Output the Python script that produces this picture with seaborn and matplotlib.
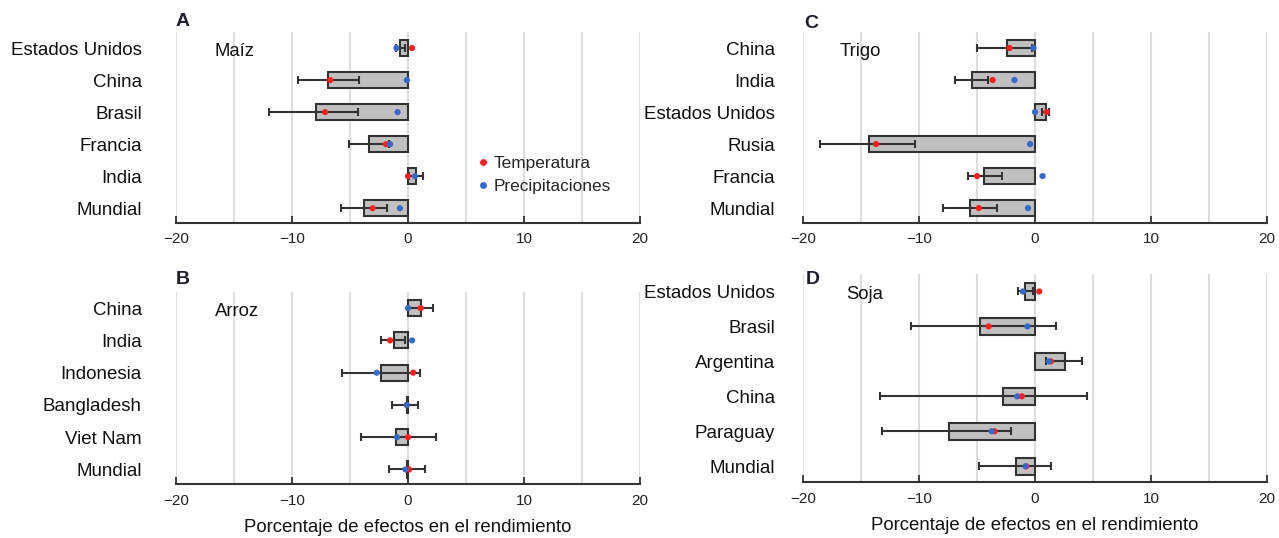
import numpy as np
import pandas as pd
import matplotlib
matplotlib.use("Agg")
import matplotlib.pyplot as plt
import seaborn as sns

sns.set_theme(style="white")
plt.rcParams['font.family'] = ['Liberation Sans', 'DejaVu Sans']

# ---------------- data ----------------
maiz_countries = ["Estados Unidos", "China", "Brasil", "Francia", "India", "Mundial"]
maiz_bar = [-0.7, -6.9, -7.95, -3.35, 0.7, -3.8]
maiz_err_lo = [-1.0, -9.45, -11.95, -5.1, 0.05, -5.8]
maiz_err_hi = [-0.25, -4.2, -4.3, -1.6, 1.32, -1.85]
maiz_temp = [0.35, -6.7, -7.15, -1.9, 0.0, -3.05]
maiz_prec = [-1.0, -0.1, -0.9, -1.55, 0.6, -0.7]

arroz_countries = ["China", "India", "Indonesia", "Bangladesh", "Viet Nam", "Mundial"]
arroz_bar = [1.1, -1.25, -2.35, -0.12, -1.0, -0.05]
arroz_err_lo = [0.02, -2.3, -5.65, -1.38, -4.05, -1.64]
arroz_err_hi = [2.18, -0.23, 1.0, 0.89, 2.4, 1.47]
arroz_temp = [1.1, -1.55, 0.45, -0.1, 0.0, 0.1]
arroz_prec = [0.0, 0.35, -2.7, -0.1, -0.95, -0.22]

trigo_countries = ["China", "India", "Estados Unidos", "Rusia", "Francia", "Mundial"]
trigo_bar = [-2.4, -5.4, 0.97, -14.3, -4.37, -5.58]
trigo_err_lo = [-5.0, -6.88, 0.6, -18.5, -5.8, -7.94]
trigo_err_hi = [-0.22, -4.05, 1.23, -10.36, -2.84, -3.24]
trigo_temp = [-2.2, -3.65, 1.0, -13.7, -5.0, -4.85]
trigo_prec = [-0.13, -1.77, 0.0, -0.42, 0.65, -0.6]

soja_countries = ["Estados Unidos", "Brasil", "Argentina", "China", "Paraguay", "Mundial"]
soja_bar = [-0.85, -4.74, 2.58, -2.72, -7.42, -1.66]
soja_err_lo = [-1.5, -10.66, 0.93, -13.34, -13.19, -4.86]
soja_err_hi = [-0.13, 1.77, 4.02, 4.45, -2.03, 1.34]
soja_temp = [0.36, -4.0, 1.37, -1.14, -3.48, -0.76]
soja_prec = [-1.05, -0.65, 1.19, -1.54, -3.74, -0.82]

crops = ["Maíz", "Arroz", "Trigo", "Soja"]
letters = ["A", "B", "C", "D"]
xticks = [-20, -10, 0, 10, 20]
xlabel = "Porcentaje de efectos en el rendimiento"
legend_labels = ["Temperatura", "Precipitaciones"]

# ---------------- style ----------------
BAR_FILL = "#c0c0c0"
DARK = "#333333"
GRID = "#dedede"
RED = "#ff1f1f"
BLUE = "#3569c9"

W, H = 1279, 538
fig = plt.figure(figsize=(W / 100, H / 100), dpi=100)

def rect(left, top, right, bottom):
    return [left / W, 1 - bottom / H, (right - left) / W, (bottom - top) / H]

panels = [
    dict(rect=rect(176, 32, 640, 222.7), countries=maiz_countries, bar=maiz_bar,
         lo=maiz_err_lo, hi=maiz_err_hi, temp=maiz_temp, prec=maiz_prec,
         pad=24.5, letter_xy=(176, 22), label=False, legend=True),
    dict(rect=rect(176, 292, 640, 484), countries=arroz_countries, bar=arroz_bar,
         lo=arroz_err_lo, hi=arroz_err_hi, temp=arroz_temp, prec=arroz_prec,
         pad=24.5, letter_xy=(176, 279), label=True, legend=False),
    dict(rect=rect(803, 32, 1267, 222.5), countries=trigo_countries, bar=trigo_bar,
         lo=trigo_err_lo, hi=trigo_err_hi, temp=trigo_temp, prec=trigo_prec,
         pad=20, letter_xy=(804, 23), label=False, legend=False),
    dict(rect=rect(803, 274, 1267, 482), countries=soja_countries, bar=soja_bar,
         lo=soja_err_lo, hi=soja_err_hi, temp=soja_temp, prec=soja_prec,
         pad=20, letter_xy=(806, 279), label=True, legend=False),
]
crop_pos = [(0.084, 0.90), (0.084, 0.90), (0.078, 0.90), (0.093, 0.90)]

for i, p in enumerate(panels):
    ax = fig.add_axes(p["rect"])
    n = len(p["countries"])
    pos = np.arange(n)
    df = pd.DataFrame({"pais": p["countries"], "valor": p["bar"]})
    sns.barplot(data=df, x="valor", y="pais", ax=ax, color=BAR_FILL,
                edgecolor=DARK, linewidth=1.5, width=0.5, errorbar=None,
                saturation=1, zorder=2)
    lo = np.array(p["lo"]); hi = np.array(p["hi"])
    ax.errorbar((lo + hi) / 2, pos, xerr=(hi - lo) / 2, fmt="none",
                ecolor=DARK, elinewidth=1.5, capsize=3, capthick=1.5, zorder=3)
    dots = pd.DataFrame({
        "x": list(p["temp"]) + list(p["prec"]),
        "y": list(pos) + list(pos),
        "serie": [legend_labels[0]] * n + [legend_labels[1]] * n,
    })
    sns.scatterplot(data=dots, x="x", y="y", hue="serie",
                    palette={legend_labels[0]: RED, legend_labels[1]: BLUE},
                    s=20, linewidth=0, ax=ax, zorder=4, legend=p["legend"])

    ax.set_xlim(-20, 20)
    ax.set_ylim(n - 0.55, -0.5)
    ax.set_yticks(pos)
    ax.set_yticklabels(p["countries"])
    ax.set_xticks(xticks)
    ax.set_xticklabels([f"\u2212{abs(t)}" if t < 0 else str(t) for t in xticks])
    ax.set_xticks(np.arange(-20, 21, 5), minor=True)
    ax.grid(False)
    ax.grid(True, axis="x", which="both", color=GRID, linewidth=1.5, zorder=0)
    ax.set_axisbelow(True)
    for s in ["left", "right", "top"]:
        ax.spines[s].set_visible(False)
    ax.spines["bottom"].set_color(DARK)
    ax.spines["bottom"].set_linewidth(1.5)
    ax.tick_params(axis="x", which="major", direction="in", length=5, width=1.3,
                   color=DARK, labelsize=11, labelcolor="#222222", pad=7, bottom=True)
    ax.tick_params(axis="x", which="minor", length=0)
    ax.tick_params(axis="y", length=0, pad=p["pad"], labelsize=13.5, labelcolor="#111111")
    ax.set_ylabel("")
    if p["label"]:
        ax.set_xlabel(xlabel, fontsize=13.4, color="#111111", labelpad=8)
    else:
        ax.set_xlabel("")
    ax.text(crop_pos[i][0], crop_pos[i][1], crops[i], transform=ax.transAxes,
            fontsize=13.3, ha="left", va="center", color="#111111")
    fig.text(p["letter_xy"][0] / W, 1 - p["letter_xy"][1] / H, letters[i],
             fontsize=14, fontweight="bold", ha="left", va="center", color="#1e1e2e")
    if p["legend"]:
        sns.move_legend(ax, "upper left", bbox_to_anchor=(0.652, 0.35), title=None,
                        frameon=False, fontsize=12.4, handlelength=0.5,
                        handletextpad=0.4, labelspacing=0.45, borderpad=0,
                        borderaxespad=0, markerscale=1.1)

fig.savefig("out.png", dpi=100)
